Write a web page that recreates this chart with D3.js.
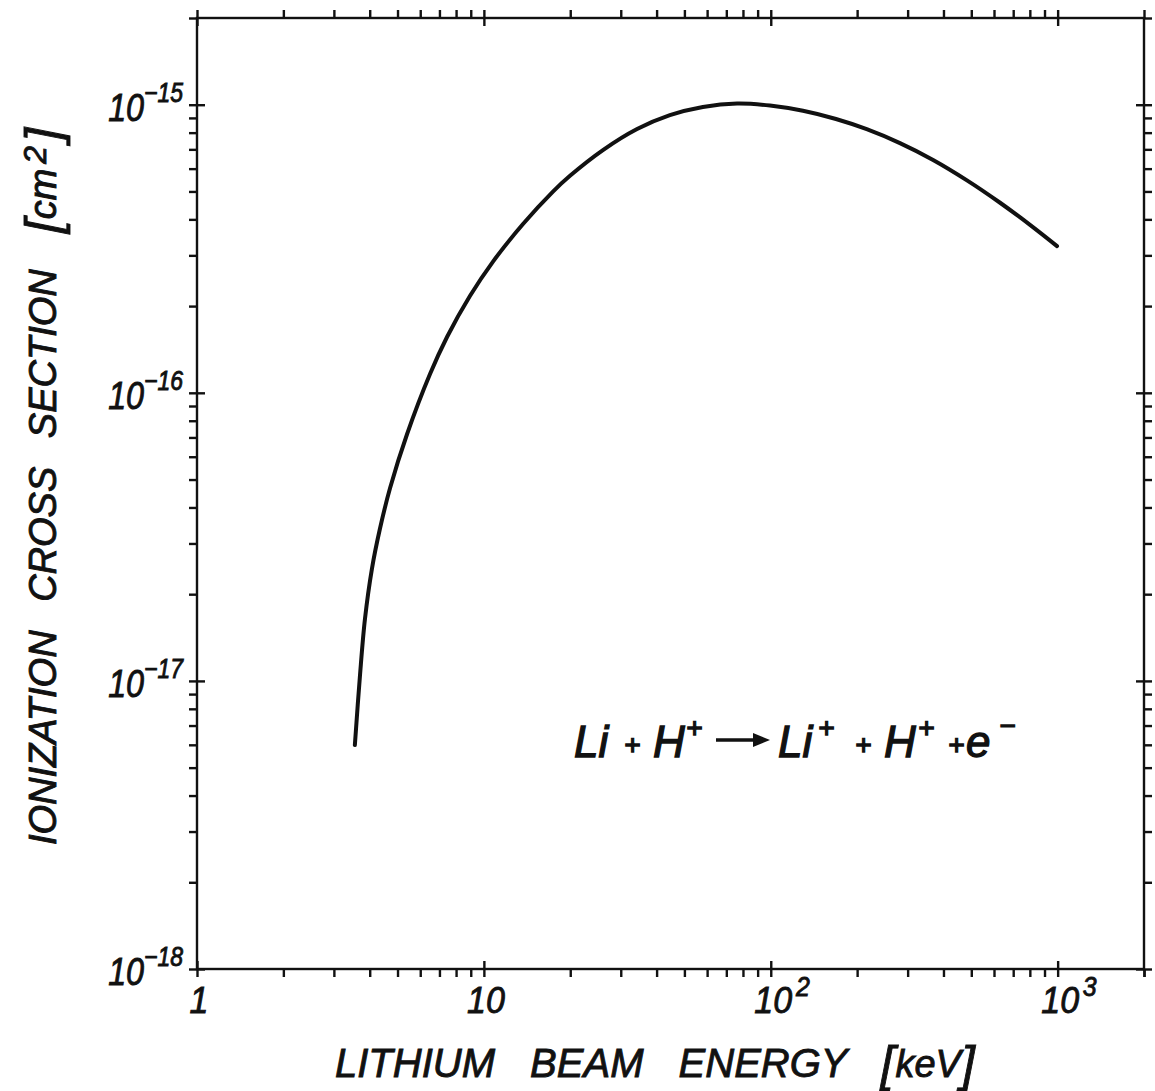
<!DOCTYPE html>
<html>
<head>
<meta charset="utf-8">
<script src="https://cdn.jsdelivr.net/npm/d3@7"></script>
<style>
  html, body { margin: 0; padding: 0; background: #fff; }
  svg { display: block; }
  text { font-family: "Liberation Sans", Arial, sans-serif; font-style: italic; fill: #111; stroke: #111; stroke-width: 0.9px; }
</style>
</head>
<body>
<script>
// ---- data ----
const energyKeV = [3.55, 3.70, 3.85, 4.07, 4.34, 4.71, 5.40, 6.49, 7.44, 8.94, 10.76, 13.69, 17.41, 19.96, 26.0, 34.2, 44.5, 58.0, 76.3, 99.4, 129.5, 168.8, 216, 282, 368, 483, 630, 820, 995];
const crossSection = [5.99e-18, 1.048e-17, 1.640e-17, 2.445e-17, 3.366e-17, 4.672e-17, 7.194e-17, 1.162e-16, 1.562e-16, 2.168e-16, 2.855e-16, 3.853e-16, 4.994e-16, 5.666e-16, 6.959e-16, 8.235e-16, 9.203e-16, 9.826e-16, 1.0097e-15, 9.936e-16, 9.524e-16, 8.920e-16, 8.222e-16, 7.357e-16, 6.432e-16, 5.464e-16, 4.568e-16, 3.760e-16, 3.230e-16];

const xMajorTicks = [1, 10, 100, 1000];
const xTickBase = ["1", "10", "10", "10"];
const xTickExp = ["", "", "2", "3"];
const yMajorTicks = [1e-15, 1e-16, 1e-17, 1e-18];
const yTickBase = ["10", "10", "10", "10"];
const yTickExp = ["\u221215", "\u221216", "\u221217", "\u221218"];

const xTitle = ["LITHIUM", "BEAM", "ENERGY"];
const xUnit = "keV";
const yTitle = ["IONIZATION", "CROSS", "SECTION"];
const yUnit = "cm";
const yUnitExp = "2";

// ---- layout ----
const W = 1155, H = 1091;
const L = 197, R = 1144, T = 18, B = 969;

const svg = d3.select("body").append("svg").attr("width", W).attr("height", H);
svg.append("rect").attr("width", W).attr("height", H).attr("fill", "#fff");

const x = d3.scaleLog().domain([1, 2000]).range([L, R]);
const y = d3.scaleLog().domain([1e-18, 2e-15]).range([B, T]);

const allX = x.ticks();
const allY = y.ticks();
const tickLen = 8;
const axW = 2.4;

function styleAxis(g) {
  g.select(".domain").remove();
  g.selectAll(".tick line").attr("stroke", "#111").attr("stroke-width", axW);
  g.selectAll(".tick text").remove();
}

// outward ticks (all) and inward ticks (majors) on each side
svg.append("g").attr("transform", `translate(0,${B})`)
  .call(d3.axisBottom(x).tickValues(allX).tickSize(tickLen).tickFormat("")).call(styleAxis);
svg.append("g").attr("transform", `translate(0,${B})`)
  .call(d3.axisTop(x).tickValues(xMajorTicks).tickSize(tickLen).tickFormat("")).call(styleAxis);
svg.append("g").attr("transform", `translate(0,${T})`)
  .call(d3.axisTop(x).tickValues(allX).tickSize(tickLen).tickFormat("")).call(styleAxis);
svg.append("g").attr("transform", `translate(0,${T})`)
  .call(d3.axisBottom(x).tickValues(xMajorTicks).tickSize(tickLen).tickFormat("")).call(styleAxis);
svg.append("g").attr("transform", `translate(${L},0)`)
  .call(d3.axisLeft(y).tickValues(allY).tickSize(tickLen).tickFormat("")).call(styleAxis);
svg.append("g").attr("transform", `translate(${L},0)`)
  .call(d3.axisRight(y).tickValues(yMajorTicks).tickSize(tickLen).tickFormat("")).call(styleAxis);
svg.append("g").attr("transform", `translate(${R},0)`)
  .call(d3.axisRight(y).tickValues(allY).tickSize(tickLen).tickFormat("")).call(styleAxis);
svg.append("g").attr("transform", `translate(${R},0)`)
  .call(d3.axisLeft(y).tickValues(yMajorTicks).tickSize(tickLen).tickFormat("")).call(styleAxis);
svg.append("g").attr("transform", `translate(0,${B})`)
  .call(d3.axisBottom(x).tickValues([2000]).tickSize(tickLen).tickFormat("")).call(styleAxis);

// frame
svg.append("rect").attr("x", L).attr("y", T).attr("width", R - L).attr("height", B - T)
  .attr("fill", "none").attr("stroke", "#111").attr("stroke-width", axW);

// x tick labels
const xl = svg.append("g");
xMajorTicks.forEach((v, i) => {
  const g = xl.append("g").attr("transform", `translate(${x(v) + 2},${B + 44}) scale(0.92,1)`);
  const t = g.append("text")
    .attr("x", xTickExp[i] ? -20 : 0)
    .attr("font-size", 37)
    .attr("text-anchor", xTickExp[i] ? "start" : "middle");
  t.append("tspan").text(xTickBase[i]);
  if (xTickExp[i]) t.append("tspan").attr("dx", 4).attr("dy", -17).attr("font-size", 27).text(xTickExp[i]);
});

// y tick labels
const yl = svg.append("g");
yMajorTicks.forEach((v, i) => {
  const g = yl.append("g").attr("transform", `translate(${L - 14},${y(v) + 16}) scale(0.85,1)`);
  const t = g.append("text").attr("font-size", 38).attr("text-anchor", "end");
  t.append("tspan").text(yTickBase[i]);
  t.append("tspan").attr("dy", -19).attr("font-size", 27).text(yTickExp[i]);
});

// axis titles
const xt = svg.append("text").attr("x", 335).attr("y", 1077).attr("font-size", 40)
  .style("word-spacing", "24px");
xt.append("tspan").text(xTitle.join(" "));
xt.append("tspan").attr("dx", 33).attr("font-size", 50).attr("dy", 4).text("[");
xt.append("tspan").attr("dx", 1).attr("dy", -4).attr("font-size", 38).text(xUnit);
xt.append("tspan").attr("dx", 0).attr("font-size", 50).attr("dy", 4).text("]");

const yt = svg.append("text").attr("transform", "translate(56,845) rotate(-90)").attr("font-size", 38)
  .style("word-spacing", "18px");
yt.append("tspan").text(yTitle.join(" "));
yt.append("tspan").attr("dx", 36).attr("font-size", 50).attr("dy", 4).text("[");
yt.append("tspan").attr("dy", -4).text(yUnit);
yt.append("tspan").attr("dx", 5).attr("dy", -10).attr("font-size", 32).text(yUnitExp);
yt.append("tspan").attr("dx", 4).attr("dy", 14).attr("font-size", 50).text("]");

// curve
const line = d3.line()
  .x((d, i) => x(energyKeV[i]))
  .y((d, i) => y(crossSection[i]))
  .curve(d3.curveCatmullRom.alpha(0.5));
svg.append("path").datum(crossSection).attr("d", line)
  .attr("fill", "none").attr("stroke", "#111").attr("stroke-width", 4)
  .attr("stroke-linecap", "round").attr("stroke-linejoin", "round");

// reaction annotation
const ann = svg.append("g");
const baseY = 757;
function piece(txt, px, size, dy) {
  ann.append("text").attr("x", px).attr("y", baseY + (dy || 0)).attr("font-size", size)
    .style("stroke-width", "1.3px").text(txt);
}
piece("Li", 574, 44);
piece("+", 624, 28, -3);
piece("H", 653, 44);
piece("+", 686, 28, -20);
// arrow
ann.append("line").attr("x1", 716).attr("y1", 740).attr("x2", 756).attr("y2", 740)
  .attr("stroke", "#111").attr("stroke-width", 3.5);
ann.append("path").attr("d", "M753,733 L770,740 L753,747 Z").attr("fill", "#111");
piece("Li", 778, 44);
piece("+", 818, 28, -20);
piece("+", 855, 28, -3);
piece("H", 884, 44);
piece("+", 918, 28, -20);
piece("+", 948, 28, -3);
piece("e", 966, 44);
piece("\u2212", 999, 28, -22);
</script>
</body>
</html>
